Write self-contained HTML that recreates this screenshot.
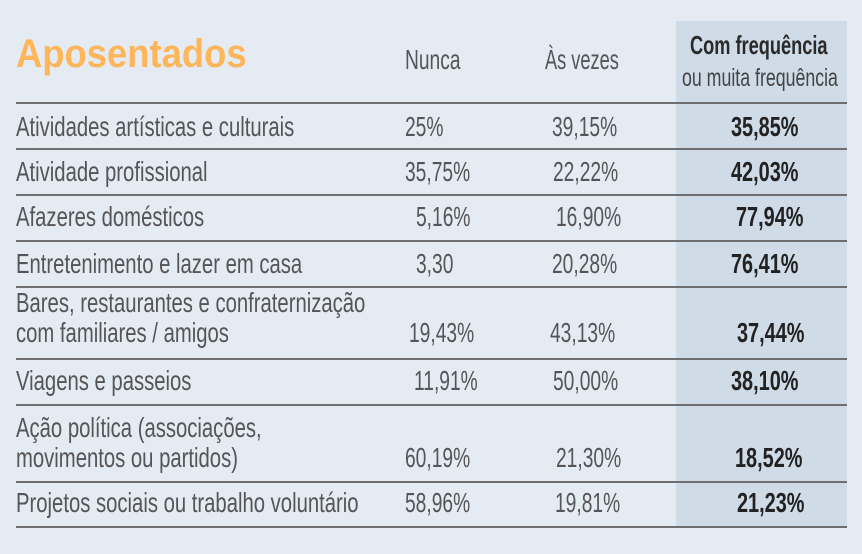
<!DOCTYPE html>
<html><head><meta charset="utf-8"><style>
body{margin:0;width:862px;height:554px;background:#e4ebf3;position:relative;overflow:hidden;font-family:"Liberation Sans",sans-serif}
.hl{position:absolute;left:676px;top:21px;width:171px;height:507px;background:#cfdbe6}
.ln{position:absolute;left:16px;width:831px;height:2px;background:#6e6e70}
.t{position:absolute;font-size:28px;line-height:28px;color:#555557;transform:scaleX(0.686);transform-origin:left center;white-space:nowrap}
.l{transform:scaleX(0.724)}
.d{color:#222;font-weight:bold;transform:scaleX(0.71)}
.title{position:absolute;left:16px;top:30px;font-size:40px;font-weight:bold;color:#ffb55a;line-height:48px;transform:scaleX(0.91);transform-origin:left center}
</style></head><body>
<div class="hl"></div>
<div class="title">Aposentados</div>
<div class="t" style="left:405px;top:46px">Nunca</div>
<div class="t" style="left:545px;top:46px;transform:scaleX(0.65)">Às vezes</div>
<div class="t d" style="left:690px;top:31px;font-size:26px;color:#2a2a2a;transform:scaleX(0.7)">Com frequência</div>
<div class="t" style="left:682px;top:64px;font-size:25px;transform:scaleX(0.71);color:#444">ou muita frequência</div>
<div class="ln" style="top:102px"></div>
<div class="ln" style="top:148px"></div>
<div class="ln" style="top:194px"></div>
<div class="ln" style="top:240px"></div>
<div class="ln" style="top:286px"></div>
<div class="ln" style="top:358px"></div>
<div class="ln" style="top:404px"></div>
<div class="ln" style="top:481px"></div>
<div class="ln" style="top:526px"></div>

<div class="t l" style="left:16px;top:113px">Atividades artísticas e culturais</div>
<div class="t" style="left:405px;top:113px">25%</div>
<div class="t" style="left:552px;top:113px">39,15%</div>
<div class="t d" style="left:731px;top:113px">35,85%</div>

<div class="t l" style="left:16px;top:158px">Atividade profissional</div>
<div class="t" style="left:405px;top:158px">35,75%</div>
<div class="t" style="left:553px;top:158px">22,22%</div>
<div class="t d" style="left:731px;top:158px">42,03%</div>

<div class="t l" style="left:16px;top:203px">Afazeres domésticos</div>
<div class="t" style="left:416px;top:203px">5,16%</div>
<div class="t" style="left:556px;top:203px">16,90%</div>
<div class="t d" style="left:736px;top:203px">77,94%</div>

<div class="t l" style="left:16px;top:250px">Entretenimento e lazer em casa</div>
<div class="t" style="left:416px;top:250px">3,30</div>
<div class="t" style="left:552px;top:250px">20,28%</div>
<div class="t d" style="left:731px;top:250px">76,41%</div>

<div class="t l" style="left:16px;top:289px">Bares, restaurantes e confraternização</div>
<div class="t l" style="left:16px;top:319px">com familiares / amigos</div>
<div class="t" style="left:409px;top:319px">19,43%</div>
<div class="t" style="left:550px;top:319px">43,13%</div>
<div class="t d" style="left:737px;top:319px">37,44%</div>

<div class="t l" style="left:16px;top:367px">Viagens e passeios</div>
<div class="t" style="left:414px;top:367px">11,91%</div>
<div class="t" style="left:553px;top:367px">50,00%</div>
<div class="t d" style="left:731px;top:367px">38,10%</div>

<div class="t l" style="left:16px;top:414px">Ação política (associações,</div>
<div class="t l" style="left:16px;top:444px">movimentos ou partidos)</div>
<div class="t" style="left:405px;top:444px">60,19%</div>
<div class="t" style="left:556px;top:444px">21,30%</div>
<div class="t d" style="left:735px;top:444px">18,52%</div>

<div class="t l" style="left:16px;top:489px">Projetos sociais ou trabalho voluntário</div>
<div class="t" style="left:405px;top:489px">58,96%</div>
<div class="t" style="left:555px;top:489px">19,81%</div>
<div class="t d" style="left:737px;top:489px">21,23%</div>
</body></html>
